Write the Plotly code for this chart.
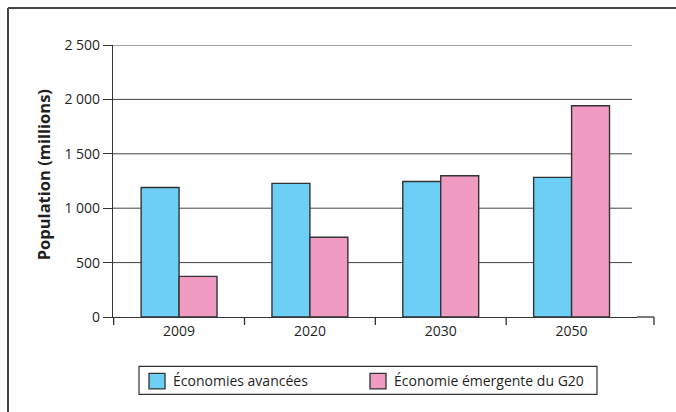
import plotly.graph_objects as go

# Population projections (millions)
years = ["2009", "2020", "2030", "2050"]
avancees = [1190, 1228, 1245, 1283]
emergentes = [373, 733, 1298, 1942]

series_names = ["Économies avancées", "Économie émergente du G20"]
series_colors = ["#6dcff6", "#f09bc2"]

y_tickvals = [0, 500, 1000, 1500, 2000, 2500]
y_ticktext = ["0", "500", "1 000", "1 500", "2 000", "2 500"]

FONT = "Open Sans"
INK = "#333333"
TEXT = "#1f1f1f"

# plot area in pixels, used to place the decorations in paper units
L, R, T, B = 113, 637, 45, 317.5


def px(x):
    return (x - L) / (R - L)


def py(y):
    return (B - y) / (B - T)


fig = go.Figure()
for name, vals, col in zip(series_names, [avancees, emergentes], series_colors):
    fig.add_trace(go.Bar(
        x=years, y=vals, name=name, showlegend=False,
        marker=dict(color=col, line=dict(color=INK, width=1.4)),
    ))

shapes = []
# horizontal guide lines at each y tick, drawn behind the bars
for v in y_tickvals[1:]:
    shapes.append(dict(type="line", xref="paper", yref="y", x0=0, x1=px(632),
                       y0=v, y1=v, line=dict(color="#444444", width=1), layer="below"))

# x axis ticks between categories; the axis line runs on to a final tick
tick_len = 8 / (B - T)
for i in range(len(years)):
    shapes.append(dict(type="line", xref="x", yref="paper", x0=i - 0.5, x1=i - 0.5,
                       y0=0, y1=-tick_len, line=dict(color=INK, width=1.3)))
shapes.append(dict(type="line", xref="paper", yref="paper", x0=1, x1=px(654),
                   y0=0, y1=0, line=dict(color=INK, width=1.3)))
shapes.append(dict(type="line", xref="paper", yref="paper", x0=px(654), x1=px(654),
                   y0=0, y1=-tick_len, line=dict(color=INK, width=1.3)))

# frame: top and left edges
shapes.append(dict(type="line", xref="paper", yref="paper", x0=px(8), x1=px(690),
                   y0=py(8), y1=py(8), line=dict(color="#444444", width=2)))
shapes.append(dict(type="line", xref="paper", yref="paper", x0=px(8), x1=px(8),
                   y0=py(8), y1=py(420), line=dict(color="#444444", width=2)))

# legend box with its swatches
shapes.append(dict(type="rect", xref="paper", yref="paper", x0=px(139), x1=px(597),
                   y0=py(395), y1=py(367), line=dict(color=INK, width=1.2),
                   fillcolor="white"))
annotations = []
legend_x = [149, 370]
for x0, name, col in zip(legend_x, series_names, series_colors):
    shapes.append(dict(type="rect", xref="paper", yref="paper", x0=px(x0), x1=px(x0 + 16),
                       y0=py(389.5), y1=py(374), line=dict(color=INK, width=1.3),
                       fillcolor=col))
    annotations.append(dict(text=name, xref="paper", yref="paper", x=px(x0 + 22),
                            y=py(381.5), xanchor="left", yanchor="middle",
                            showarrow=False, font=dict(family=FONT, size=14, color=TEXT)))

annotations.append(dict(
    text="<b>Population (millions)</b>", textangle=-90,
    xref="paper", yref="paper", x=px(43), y=py(175.5),
    xanchor="center", yanchor="middle",
    showarrow=False, font=dict(family=FONT, size=16.5, color=TEXT),
))

fig.update_layout(
    width=676, height=412,
    margin=dict(l=L, r=676 - R, t=T, b=412 - B),
    paper_bgcolor="white", plot_bgcolor="white",
    font=dict(family=FONT, size=14, color=TEXT),
    barmode="group", bargap=0.42, bargroupgap=0,
    shapes=shapes, annotations=annotations,
    showlegend=False,
)

fig.update_xaxes(
    type="category", showgrid=False, showline=True, linecolor=INK, linewidth=1.3,
    ticks="", ticklabelstandoff=1,
    tickfont=dict(family=FONT, size=14, color=TEXT),
)
fig.update_yaxes(
    range=[0, 2500], showgrid=False, zeroline=False, showline=True,
    linecolor=INK, linewidth=1.3,
    tickvals=y_tickvals, ticktext=y_ticktext,
    ticks="outside", ticklen=9, tickcolor=INK, tickwidth=1.3,
    tickfont=dict(family=FONT, size=14, color=TEXT),
)

fig.write_html("out.html")
